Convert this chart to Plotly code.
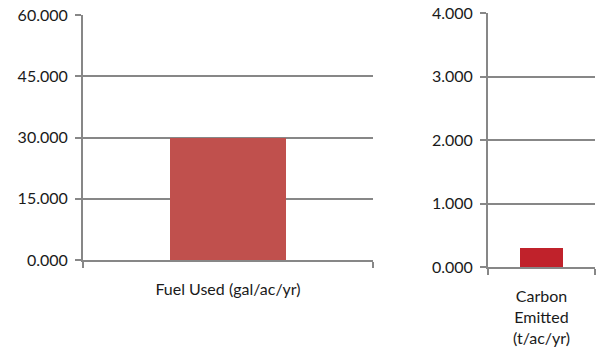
import plotly.graph_objects as go

# Two single-bar panels: fuel use and carbon emissions
fuel_categories = ["Fuel Used (gal/ac/yr)"]
fuel_values = [30.0]
fuel_ticks = [0, 15, 30, 45, 60]

carbon_categories = ["Carbon<br>Emitted<br>(t/ac/yr)"]
carbon_values = [0.30]
carbon_ticks = [0, 1, 2, 3, 4]

W, H = 597, 349
FONT = dict(family="Lato, 'Open Sans', sans-serif", size=16, color="#1a1a1a")
GRID = "#878787"

fig = go.Figure()
fig.add_trace(go.Bar(x=fuel_categories, y=fuel_values, width=0.4,
                     marker=dict(color="#C0504D", line=dict(width=0)),
                     xaxis="x", yaxis="y"))
fig.add_trace(go.Bar(x=carbon_categories, y=carbon_values, width=0.4,
                     marker=dict(color="#C0222B", line=dict(width=0)),
                     xaxis="x2", yaxis="y2"))


def xaxis(domain, anchor):
    return dict(domain=domain, anchor=anchor, type="category", range=[-0.5, 0.5],
                showline=True, linecolor=GRID, linewidth=2,
                showgrid=False, zeroline=False, automargin=False,
                ticks="outside", tickson="boundaries", ticklen=6, tickwidth=2,
                tickcolor=GRID, tickfont=FONT, ticklabelstandoff=14,
                fixedrange=True)


def yaxis(domain, anchor, ticks, rng):
    return dict(domain=domain, anchor=anchor, range=rng,
                tickvals=ticks, ticktext=[f"{t:.3f}" for t in ticks],
                showline=True, linecolor=GRID, linewidth=2,
                showgrid=True, gridcolor=GRID, gridwidth=2,
                zeroline=False, automargin=False,
                ticks="outside", ticklen=6, tickwidth=2,
                tickcolor=GRID, tickfont=FONT, ticklabelstandoff=4,
                fixedrange=True)


fig.update_layout(
    width=W, height=H,
    margin=dict(l=0, r=0, t=0, b=0, pad=0),
    paper_bgcolor="white", plot_bgcolor="white",
    showlegend=False, bargap=0,
    xaxis=xaxis([83 / W, 373 / W], "y"),
    yaxis=yaxis([1 - 260 / H, 1 - 15 / H], "x", fuel_ticks, [0, 60]),
    xaxis2=xaxis([488 / W, 595 / W], "y2"),
    yaxis2=yaxis([1 - 267 / H, 1 - 13 / H], "x2", carbon_ticks, [0, 4]),
    font=FONT,
)

fig.write_html("out.html")
